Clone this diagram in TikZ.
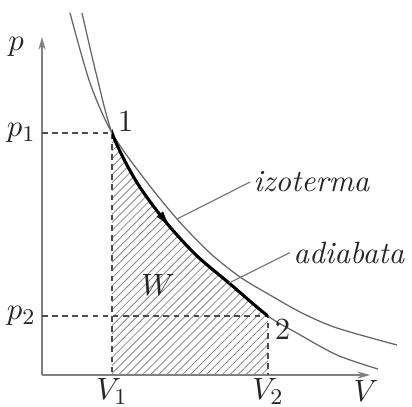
\documentclass[tikz,border=0pt,11pt]{standalone}
\usetikzlibrary{arrows.meta, positioning, patterns.meta}
\definecolor{axisgrey}{gray}{0.5}
\tikzset{
  >={Stealth[length=1.6mm, width=0.9mm]},
  axis/.style={->, draw=axisgrey, line width=0.5pt},
  curve/.style={draw=black!60, line width=0.45pt},
  work/.style={draw=black, line width=1.1pt},
  guide/.style={draw=black!70, line width=0.4pt, dash pattern=on 2pt off 1.6pt},
  leader/.style={draw=black!55, line width=0.4pt},
  hatch/.style={pattern={Lines[angle=45, distance=2pt, line width=0.3pt]}, pattern color=black!45},
  lbl/.style={inner sep=1pt, text=black!85},
}
% points of the two curves
\newcommand{\adiabatpts}{(1.0,9.05) (1.35,7.55) (1.75,6.05) (2.35,4.85) (3.075,3.85) (3.85,3.0) (4.675,2.3) (5.65,1.475) (6.325,1.075) (7.375,0.5) (8.4,0.15)}
\newcommand{\isothermpts}{(0.7,9.05) (1.2,7.3) (1.75,6.05) (2.5,4.98) (3.375,3.9) (4.2,3.05) (4.95,2.45) (5.7,2.0) (6.5,1.55) (7.375,1.175) (8.875,0.75)}

\begin{document}
\begin{tikzpicture}[x=5mm, y=5mm]
  \useasboundingbox (-1.05,-0.775) rectangle (9.25,9.375);
  \coordinate (O) at (0,0);
  \coordinate (P1) at (1.75,6.05);
  \coordinate (P2) at (5.65,1.475);
  \coordinate (V1) at (P1 |- O);
  \coordinate (V2) at (P2 |- O);
  \coordinate (p1) at (P1 -| O);
  \coordinate (p2) at (P2 -| O);
  \coordinate (isoP) at (3.375,3.9);
  \coordinate (adiP) at (4.675,2.3);

  % work area under the adiabat
  \begin{scope}
    \clip (V1) rectangle (5.65,9.5);
    \clip (O) -- plot[smooth] coordinates {\adiabatpts} -- (8.4,0) -- cycle;
    \fill[hatch] (V1) rectangle (P1 -| P2);
  \end{scope}

  % axes
  \draw[axis] (O) -- (0,8.45) coordinate (ptop);
  \draw[axis] (O) -- (8.2,0) coordinate (vend);

  \draw[guide] (p1) -- (P1) -- (V1);
  \draw[guide] (p2) -- (P2) -- (V2);

  % curves
  \draw[curve] plot[smooth] coordinates {\isothermpts};
  \draw[curve] plot[smooth] coordinates {\adiabatpts};
  \begin{scope}
    \clip (V1) rectangle (5.65,9.5);
    \draw[work] plot[smooth] coordinates {\adiabatpts};
  \end{scope}
  \draw[work, -{Latex[length=7pt, width=3pt]}] (2.95,4.02) -- (3.25,3.64);

  % labels
  \node[lbl] (plbl) at (-0.65,8.2) {$p$};
  \node[lbl, left=1pt of p1] (p1lbl) {$p_1$};
  \node[lbl, left=1pt of p2] (p2lbl) {$p_2$};
  \node[lbl, below=0pt of V1] (v1lbl) {$V_1$};
  \node[lbl, below=0pt of V2] (v2lbl) {$V_2$};
  \node[lbl] (vlbl) at (8.1,-0.4) {$V$};
  \node[lbl, above right=-0.6pt and 0.9pt of P1] (n1) {1};
  \node[lbl, below right=-0.2pt and 1.25pt of P2] (n2) {2};
  \node[lbl] (wlbl) at (2.9,2.25) {$W$};
  \node[lbl, anchor=west] (izo) at (5.2,4.825) {\textit{izoterma}};
  \node[lbl, anchor=west] (adi) at (6.2,3.06) {\textit{adiabata}};
  \draw[leader] (isoP) -- (izo.west);
  \draw[leader] (adiP) -- (adi.west);
\end{tikzpicture}
\end{document}
